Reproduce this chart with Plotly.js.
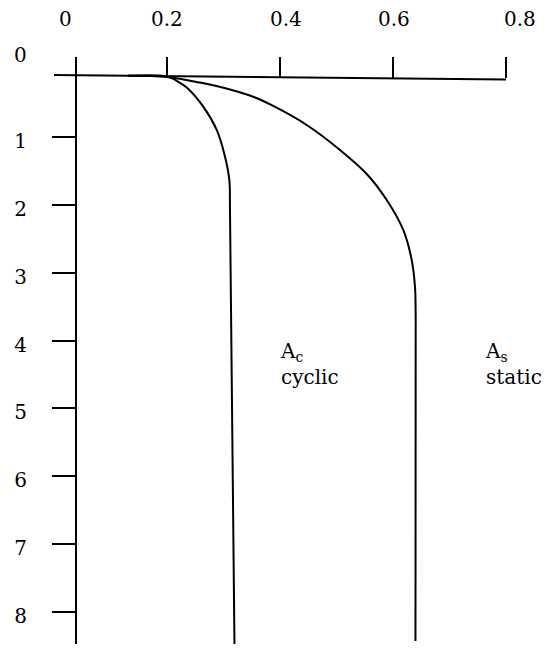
<!DOCTYPE html>
<html>
<head>
<meta charset="utf-8">
<script src="https://cdn.plot.ly/plotly-3.0.1.min.js"></script>
<style>html,body{margin:0;padding:0;background:#fff;}#chart{width:544px;height:648px;}</style>
</head>
<body>
<div id="chart"></div>
<script>
// ---- data ----
const xTickVals = [0.2, 0.4, 0.6, 0.8];
const xTickLabels = ['0.2', '0.4', '0.6', '0.8'];
const xOriginLabel = '0';
const yTickVals = [1, 2, 3, 4, 5, 6, 7, 8];
const yTickLabels = ['1', '2', '3', '4', '5', '6', '7', '8'];
const yOriginLabel = '0';

const cyclicX     = [0.131, 0.200, 0.216, 0.2349, 0.2642, 0.2880, 0.3027, 0.3103, 0.3115, 0.3195];
const cyclicDepth = [0.089, 0.100, 0.159, 0.2627, 0.5461, 0.8900, 1.2841, 1.6280, 2.0708, 8.536];

const staticX     = [0.131, 0.200, 0.2584, 0.3115, 0.3558, 0.3881, 0.4473, 0.5062, 0.5535, 0.5889, 0.6182, 0.6331, 0.6389, 0.6402, 0.6398];
const staticDepth = [0.089, 0.1077, 0.1904, 0.2923, 0.4103, 0.5358, 0.8162, 1.1852, 1.5395, 1.9232, 2.3661, 2.8089, 3.2030, 3.6458, 8.432];

const cyclicLabel = 'A<sub>c</sub><br>cyclic';
const staticLabel = 'A<sub>s</sub><br>static';

// ---- layout params ----
const FONT = 'DejaVu Serif';
const FS = 20;
const W = 544, H = 648;
const M = {l: 77, r: 37, t: 57, b: 4};
const xRange = [0.0407, 0.8018];
const yRange = [8.477, -0.187];
const plotW = W - M.l - M.r, plotH = H - M.t - M.b;
const pxToPaperX = px => (px - M.l) / plotW;
const pxToPaperY = py => 1 - (py - M.t) / plotH;

const lineStyle = {color: '#000', width: 2};
const txtFont = {family: FONT, size: FS, color: '#000'};

const traces = [
  {x: cyclicX, y: cyclicDepth, mode: 'lines', line: Object.assign({shape: 'spline', smoothing: 1}, lineStyle), hoverinfo: 'skip', showlegend: false},
  {x: staticX, y: staticDepth, mode: 'lines', line: Object.assign({shape: 'spline', smoothing: 1}, lineStyle), hoverinfo: 'skip', showlegend: false}
];

const xLabelShift = [0, 6, 1, 14];
const annotations = [];
xTickVals.forEach((v, i) => {
  annotations.push({x: v, xref: 'x', y: pxToPaperY(18.5), yref: 'paper', text: xTickLabels[i],
    showarrow: false, xanchor: 'center', yanchor: 'middle', xshift: xLabelShift[i], font: txtFont});
});
annotations.push({x: xRange[0], xref: 'x', y: pxToPaperY(18.5), yref: 'paper', text: xOriginLabel,
  showarrow: false, xanchor: 'center', yanchor: 'middle', xshift: -12, font: txtFont});
annotations.push({x: pxToPaperX(20), xref: 'paper', y: pxToPaperY(55.5), yref: 'paper', text: yOriginLabel,
  showarrow: false, xanchor: 'center', yanchor: 'middle', font: txtFont});
annotations.push({x: 0.3965, xref: 'x', y: 4.344, yref: 'y', text: cyclicLabel, showarrow: false,
  xanchor: 'left', yanchor: 'middle', align: 'left', font: txtFont});
annotations.push({x: 0.7593, xref: 'x', y: 4.344, yref: 'y', text: staticLabel, showarrow: false,
  xanchor: 'left', yanchor: 'middle', align: 'left', font: txtFont});

const layout = {
  width: W, height: H,
  margin: M,
  paper_bgcolor: '#fff', plot_bgcolor: '#fff',
  font: txtFont,
  showlegend: false,
  xaxis: {
    range: xRange, side: 'top', tickvals: xTickVals, showticklabels: false,
    ticks: 'inside', ticklen: 21, tickwidth: 2, tickcolor: '#000',
    showline: false, showgrid: false, zeroline: false, fixedrange: true
  },
  yaxis: {
    range: yRange, tickvals: yTickVals, ticktext: yTickLabels,
    ticks: 'outside', ticklen: 23, tickwidth: 2, tickcolor: '#000',
    showline: true, linewidth: 2, linecolor: '#000',
    showgrid: false, zeroline: false, fixedrange: true,
    tickfont: txtFont,
    ticklabelstandoff: 21, ticklabelshift: -4
  },
  shapes: [
    {type: 'line', xref: 'paper', yref: 'paper',
     x0: pxToPaperX(54), y0: pxToPaperY(75), x1: pxToPaperX(506), y1: pxToPaperY(79.5),
     line: lineStyle}
  ],
  annotations: annotations
};

Plotly.newPlot('chart', traces, layout, {displayModeBar: false, staticPlot: true});
</script>
</body>
</html>
